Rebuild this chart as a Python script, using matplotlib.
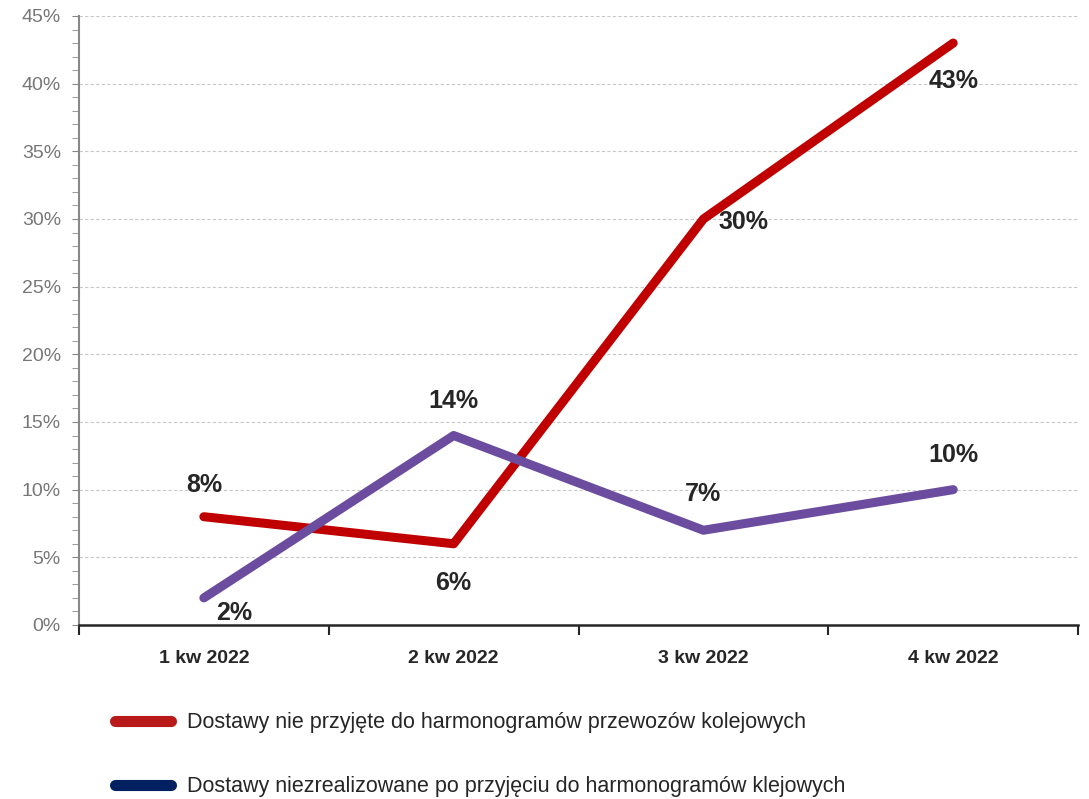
import matplotlib.pyplot as plt
from matplotlib.lines import Line2D
from matplotlib.ticker import MultipleLocator, FuncFormatter

plt.rcParams['font.family'] = ['Liberation Sans Narrow', 'Liberation Sans', 'DejaVu Sans']

# data
quarters = ['1 kw 2022', '2 kw 2022', '3 kw 2022', '4 kw 2022']
nie_przyjete = [8, 6, 30, 43]
niezrealizowane = [2, 14, 7, 10]
labels = ['Dostawy nie przyjęte do harmonogramów przewozów kolejowych',
          'Dostawy niezrealizowane po przyjęciu do harmonogramów klejowych']

red = '#C00000'
purple = '#6B4C9E'
navy = '#002060'

fig = plt.figure(figsize=(10.89, 7.99), dpi=100)
ax = fig.add_axes([0.0725, 0.2178, 0.9175, 0.7622])

x = range(len(quarters))
ax.plot(x, nie_przyjete, color=red, lw=6.5, solid_capstyle='round', solid_joinstyle='round', zorder=3)
ax.plot(x, niezrealizowane, color=purple, lw=6.5, solid_capstyle='round', solid_joinstyle='round', zorder=4)

# data labels (offsets in points)
red_off = [(0, 23), (0, -28), (29, -2), (0, -27)]
pur_off = [(22, -11), (0, 25), (0, 26), (0, 25)]
for i, v in enumerate(nie_przyjete):
    ax.annotate(f'{v}%', (i, v), xytext=red_off[i], textcoords='offset points',
                ha='center', va='center', fontsize=18, fontweight='bold', color='#262626', zorder=5)
for i, v in enumerate(niezrealizowane):
    ax.annotate(f'{v}%', (i, v), xytext=pur_off[i], textcoords='offset points',
                ha='center', va='center', fontsize=18, fontweight='bold', color='#262626', zorder=5)

ax.set_xlim(-0.5, 3.5)
ax.set_ylim(0, 45)
ax.yaxis.set_major_locator(MultipleLocator(5))
ax.yaxis.set_minor_locator(MultipleLocator(1))
ax.yaxis.set_major_formatter(FuncFormatter(lambda v, p: f'{v:.0f}%'))
ax.grid(axis='y', which='major', color='#C8C8C8', ls=(0, (3, 2)), lw=0.8)
ax.set_axisbelow(True)

ax.set_xticks(list(x))
ax.set_xticklabels(quarters, fontsize=14, fontweight='bold', color='#262626')
ax.set_xticks([-0.5, 0.5, 1.5, 2.5, 3.5], minor=True)
ax.tick_params(axis='x', which='major', length=0, pad=18)
ax.tick_params(axis='x', which='minor', length=7, width=1.5, color='#262626', direction='out')
ax.tick_params(axis='y', which='major', length=5, color='#888888', labelsize=14, labelcolor='#777777', pad=8)
ax.tick_params(axis='y', which='minor', length=5, color='#888888')

for s in ['top', 'right']:
    ax.spines[s].set_visible(False)
ax.spines['left'].set_color('#888888')
ax.spines['left'].set_linewidth(1.5)
ax.spines['bottom'].set_color('#262626')
ax.spines['bottom'].set_linewidth(1.8)

handles = [Line2D([], [], color='#B81A1A', lw=8, solid_capstyle='round'),
           Line2D([], [], color=navy, lw=8, solid_capstyle='round')]
fig.legend(handles, labels, loc='upper left', bbox_to_anchor=(0.088, 0.133),
           frameon=False, fontsize=15.5, handlelength=2.6, handletextpad=0.75,
           labelspacing=2.0, labelcolor='#262626')

fig.savefig('out.png', dpi=100)
